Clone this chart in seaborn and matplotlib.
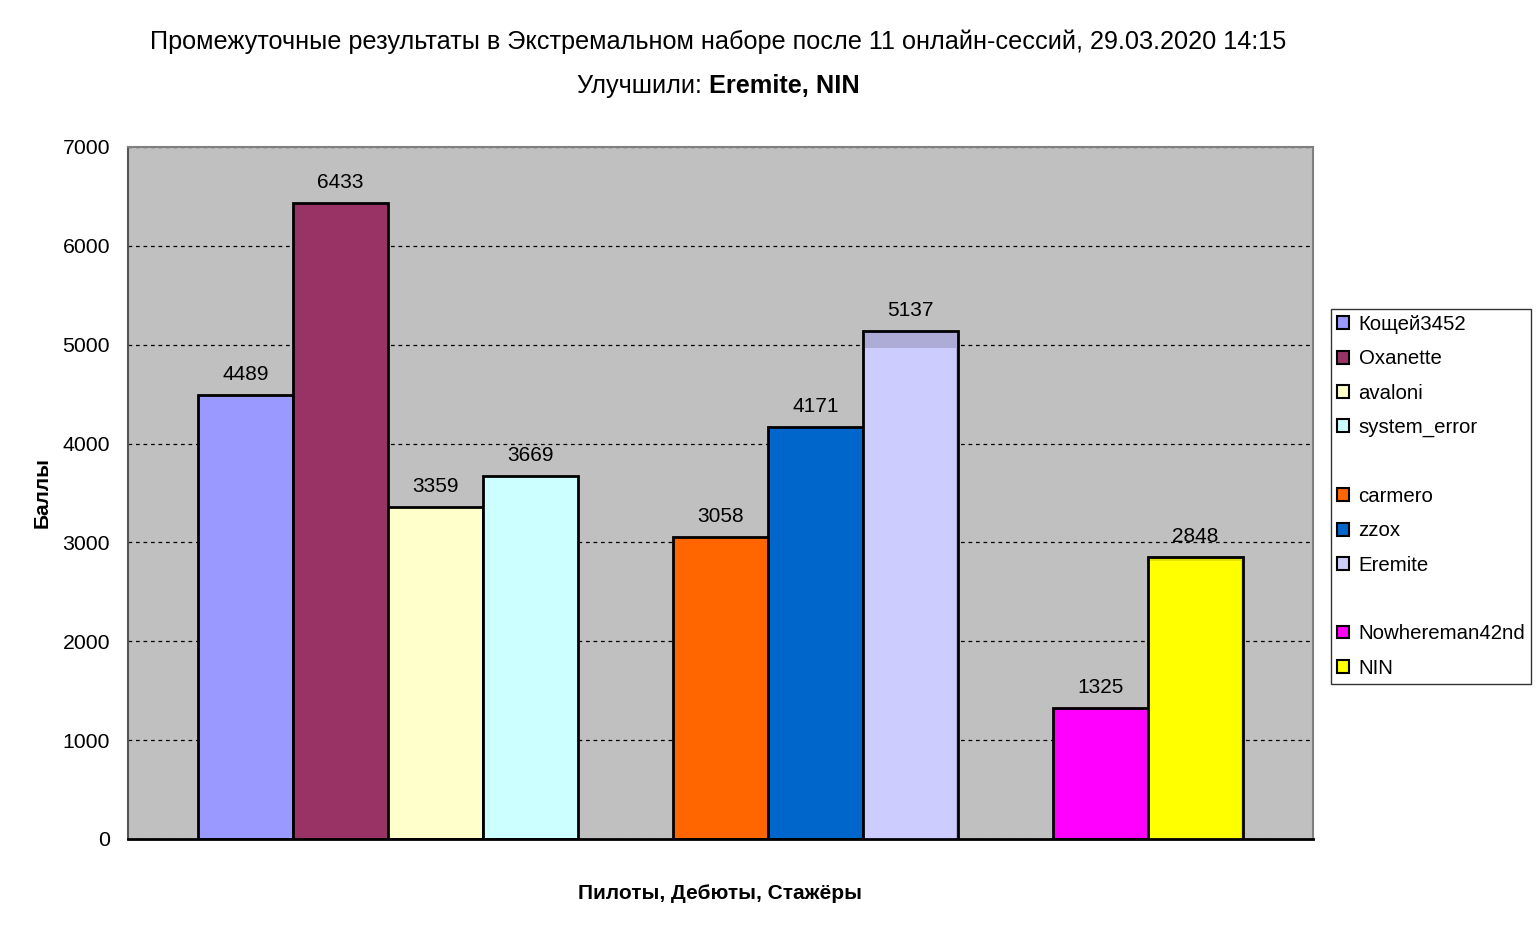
import pandas as pd
import matplotlib.pyplot as plt
import seaborn as sns
from matplotlib.patches import Patch

# Данные
players = ["Кощей3452", "Oxanette", "avaloni", "system_error",
           "carmero", "zzox", "Eremite", "Nowhereman42nd", "NIN"]
scores = [4489, 6433, 3359, 3669, 3058, 4171, 5137, 1325, 2848]
colors = ["#9999FF", "#993366", "#FFFFCC", "#CCFFFF",
          "#FF6600", "#0066CC", "#CCCCFF", "#FF00FF", "#FFFF00"]
# пустые слоты разделяют группы: Пилоты / Дебюты / Стажёры
slot_order = ["Кощей3452", "Oxanette", "avaloni", "system_error", " ",
              "carmero", "zzox", "Eremite", "  ", "Nowhereman42nd", "NIN"]
# улучшившие результат: прежний счёт и цвет прироста
improved = ["Eremite", "NIN"]
prev_scores = [4967, 2812]
gain_colors = ["#ACACD6", "#E2E200"]

title_line1 = "Промежуточные результаты в Экстремальном наборе после 11 онлайн-сессий, 29.03.2020 14:15"
title_line2a = "Улучшили: "
title_line2b = "Eremite, NIN"

sns.set_style("white")
plt.rcParams["font.family"] = ["Liberation Sans", "DejaVu Sans"]
plt.rcParams.update({"text.color": "black", "axes.labelcolor": "black",
                     "xtick.color": "black", "ytick.color": "black"})

df = pd.DataFrame({"player": players, "score": scores})
prev_df = pd.DataFrame({"player": improved, "score": prev_scores})

base_pal = dict(zip(players, colors))
full_pal = dict(base_pal)
for p, c in zip(improved, gain_colors):
    full_pal[p] = c

fig = plt.figure(figsize=(15.37, 9.49), dpi=100)
ax = fig.add_axes([128 / 1537, 1 - 839 / 949, (1313 - 128) / 1537, (839 - 147) / 949])
ax.set_facecolor("#C0C0C0")

sns.barplot(data=df, x="player", y="score", order=slot_order, hue="player",
            palette=full_pal, saturation=1, width=1.0, edgecolor="black", linewidth=2,
            errorbar=None, legend=False, ax=ax, zorder=2)
base_containers = list(ax.containers)

# прежний счёт поверх (прирост остаётся тёмной полосой сверху)
sns.barplot(data=prev_df, x="player", y="score", order=slot_order, hue="player",
            palette={p: base_pal[p] for p in improved}, saturation=1, width=0.96,
            linewidth=0, errorbar=None, legend=False, ax=ax, zorder=2)

for cont in base_containers:
    ax.bar_label(cont, fmt="{:.0f}", padding=8, fontsize=15, color="black")

gap = 70 / 95
xmin, xmax = -0.5 - gap, len(slot_order) - 0.5 + gap
ax.set_xlim(xmin, xmax)
ax.set_ylim(0, 7000)
ax.set_yticks(range(0, 7001, 1000))
ax.set_xticks([xmin, xmax], labels=["", ""])
ax.set_axisbelow(True)
ax.yaxis.grid(True, linestyle=(0, (3, 3)), color="black", linewidth=0.9)

ax.tick_params(axis="y", length=6, width=1, labelsize=15.3, pad=7)
ax.tick_params(axis="x", length=6, width=1)
for side in ["top", "right"]:
    ax.spines[side].set_color("#808080")
    ax.spines[side].set_linewidth(1.5)
ax.spines["left"].set_color("#555555")
ax.spines["left"].set_linewidth(1.5)
ax.spines["bottom"].set_color("black")
ax.spines["bottom"].set_linewidth(2)

ax.set_ylabel("Баллы", fontsize=15, fontweight="bold", labelpad=8)
ax.set_xlabel("Пилоты, Дебюты, Стажёры", fontsize=15, fontweight="bold", labelpad=23)

# заголовок
cx = 718 / 1537
fig.text(cx, 1 - 42 / 949, title_line1, fontsize=18.2, ha="center", va="center")
renderer = fig.canvas.get_renderer()
t1 = fig.text(0, 1 - 86 / 949, title_line2a, fontsize=18.2, va="center")
t2 = fig.text(0, 1 - 86 / 949, title_line2b, fontsize=18.2, fontweight="bold", va="center")
w1 = t1.get_window_extent(renderer).width / fig.bbox.width
w2 = t2.get_window_extent(renderer).width / fig.bbox.width
t1.set_x(cx - (w1 + w2) / 2)
t2.set_x(cx - (w1 + w2) / 2 + w1)

# легенда с пустыми строками между группами
handles, labels = [], []
for slot in slot_order:
    if slot.strip():
        handles.append(Patch(facecolor=base_pal[slot], edgecolor="black", linewidth=1.5))
        labels.append(slot)
    else:
        handles.append(Patch(facecolor="none", edgecolor="none"))
        labels.append(" ")
leg = fig.legend(handles, labels, loc="upper left",
                 bbox_to_anchor=(1331 / 1537, 1 - 309 / 949), fontsize=14.7,
                 frameon=True, fancybox=False, handlelength=0.6, handleheight=0.6,
                 handletextpad=0.45, labelspacing=0.75, borderpad=0.3,
                 borderaxespad=0)
leg.get_frame().set_edgecolor("black")
leg.get_frame().set_linewidth(1)

fig.savefig("out.png", dpi=100)
